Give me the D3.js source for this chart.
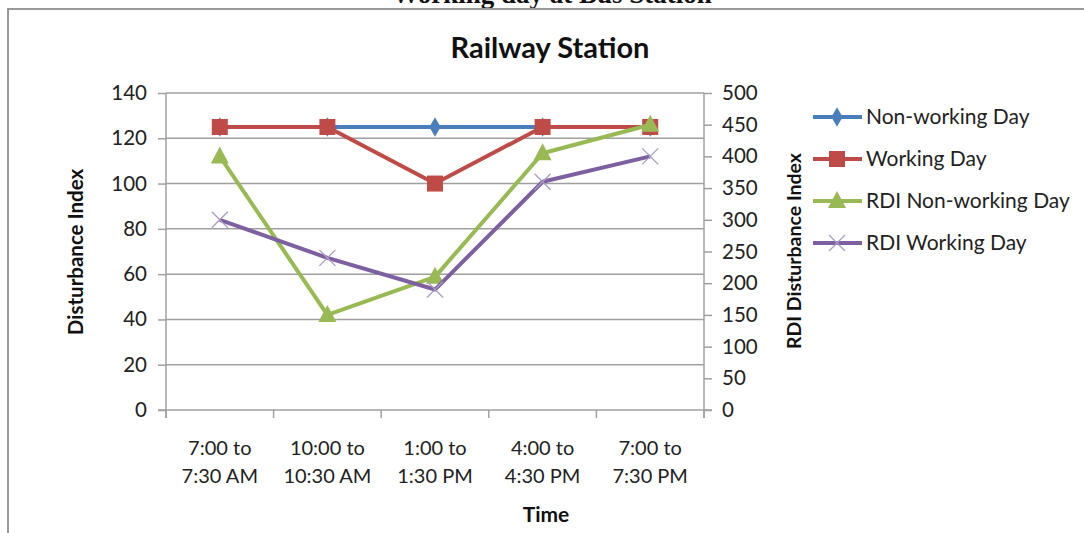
<!DOCTYPE html>
<html>
<head>
<meta charset="utf-8">
<script src="https://cdn.jsdelivr.net/npm/d3@7/dist/d3.min.js"></script>
<style>
  html, body { margin: 0; padding: 0; background: #fff; }
  svg { display: block; }
</style>
</head>
<body>
<svg id="chart" width="1084" height="533"></svg>
<script>
// Time slots sampled at the station
const categories = [
  ["7:00 to", "7:30 AM"],
  ["10:00 to", "10:30 AM"],
  ["1:00 to", "1:30 PM"],
  ["4:00 to", "4:30 PM"],
  ["7:00 to", "7:30 PM"]
];

// Disturbance index (left axis)
const nonWorkingDay = [125, 125, 125, 125, 125];
const workingDay = [125, 125, 100, 125, 125];

// RDI disturbance index (right axis)
const rdiNonWorkingDay = [400, 150, 210, 405, 450];
const rdiWorkingDay = [300, 240, 190, 360, 400];

const leftTicks = [0, 20, 40, 60, 80, 100, 120, 140];
const rightTicks = [0, 50, 100, 150, 200, 250, 300, 350, 400, 450, 500];

const seriesNames = ["Non-working Day", "Working Day", "RDI Non-working Day", "RDI Working Day"];

const font = "Lato, 'Open Sans', 'Liberation Sans', sans-serif";
const gridColor = "#a0a0a0";

const svg = d3.select("#chart");

// Page fragment above the chart frame
svg.append("text")
  .attr("x", 552).attr("y", 3)
  .attr("text-anchor", "middle")
  .attr("font-family", "'Liberation Serif', 'DejaVu Serif', serif")
  .attr("font-weight", "bold")
  .attr("font-size", 27)
  .attr("fill", "#111")
  .text("Working day at Bus Station");

// Chart frame
svg.append("path")
  .attr("d", "M8,533 V9 H1084")
  .attr("fill", "none")
  .attr("stroke", "#9a9a9a")
  .attr("stroke-width", 2);

const plot = { left: 166, right: 704, top: 93, bottom: 410 };

const x = d3.scaleBand()
  .domain(d3.range(categories.length))
  .range([plot.left, plot.right]);

const yLeft = d3.scaleLinear().domain([0, 140]).range([plot.bottom, plot.top]);
const yRight = d3.scaleLinear().domain([0, 500]).range([plot.bottom, plot.top]);

// Horizontal gridlines
svg.append("g")
  .selectAll("line")
  .data(leftTicks.filter(d => d > 0))
  .join("line")
  .attr("x1", plot.left).attr("x2", plot.right)
  .attr("y1", d => yLeft(d)).attr("y2", d => yLeft(d))
  .attr("stroke", gridColor).attr("stroke-width", 1.5);

// Left axis
const gLeft = svg.append("g")
  .attr("transform", `translate(${plot.left},0)`)
  .call(d3.axisLeft(yLeft).tickValues(leftTicks).tickSize(8).tickPadding(11).tickSizeOuter(0));

// Right axis
const gRight = svg.append("g")
  .attr("transform", `translate(${plot.right},0)`)
  .call(d3.axisRight(yRight).tickValues(rightTicks).tickSize(8).tickPadding(10).tickSizeOuter(0));

// Bottom axis with ticks between categories
const gBottom = svg.append("g")
  .attr("transform", `translate(0,${plot.bottom})`);
gBottom.append("line")
  .attr("x1", plot.left - 8).attr("x2", plot.right + 8)
  .attr("stroke", gridColor).attr("stroke-width", 1.5);
const bounds = d3.range(categories.length + 1).map(i => i < categories.length ? x(i) : x(i - 1) + x.bandwidth());
gBottom.selectAll("line.tick")
  .data(bounds)
  .join("line")
  .attr("class", "tick")
  .attr("x1", d => d).attr("x2", d => d)
  .attr("y1", 0).attr("y2", 8)
  .attr("stroke", gridColor).attr("stroke-width", 1.5);

gBottom.selectAll("text.cat")
  .data(categories)
  .join("text")
  .attr("class", "cat")
  .attr("x", (d, i) => x(i) + x.bandwidth() / 2)
  .attr("text-anchor", "middle")
  .attr("font-family", font)
  .attr("font-size", 20)
  .attr("fill", "#222")
  .selectAll("tspan")
  .data(d => d)
  .join("tspan")
  .attr("x", function () { return d3.select(this.parentNode).attr("x"); })
  .attr("y", (d, j) => 45 + j * 28)
  .text(d => d);

[gLeft, gRight].forEach(g => {
  g.select(".domain").attr("stroke", gridColor).attr("stroke-width", 1.5);
  g.selectAll(".tick line").attr("stroke", gridColor).attr("stroke-width", 1.5);
  g.selectAll(".tick text")
    .attr("font-family", font)
    .attr("font-size", 20.5)
    .attr("fill", "#222");
});
gLeft.select(".domain").attr("d", `M0,${plot.bottom + 8}V${plot.top}`);
gRight.select(".domain").attr("d", `M0,${plot.bottom + 8}V${plot.top}`);

// Titles
svg.append("text")
  .attr("x", 550).attr("y", 58)
  .attr("text-anchor", "middle")
  .attr("font-family", font)
  .attr("font-weight", "bold")
  .attr("font-size", 29)
  .attr("fill", "#111")
  .text("Railway Station");

svg.append("text")
  .attr("x", 546).attr("y", 522)
  .attr("text-anchor", "middle")
  .attr("font-family", font)
  .attr("font-weight", "bold")
  .attr("font-size", 21)
  .attr("fill", "#111")
  .text("Time");

svg.append("text")
  .attr("transform", "translate(83,252) rotate(-90)")
  .attr("text-anchor", "middle")
  .attr("font-family", font)
  .attr("font-weight", "bold")
  .attr("font-size", 20.5)
  .attr("fill", "#111")
  .text("Disturbance Index");

svg.append("text")
  .attr("transform", "translate(801,251) rotate(-90)")
  .attr("text-anchor", "middle")
  .attr("font-family", font)
  .attr("font-weight", "bold")
  .attr("font-size", 19.5)
  .attr("fill", "#111")
  .text("RDI Disturbance Index");

// Series definitions
const series = [
  { name: seriesNames[0], values: nonWorkingDay, y: yLeft, color: "#4a7ebb", marker: "diamond" },
  { name: seriesNames[1], values: workingDay, y: yLeft, color: "#be4b48", marker: "square" },
  { name: seriesNames[2], values: rdiNonWorkingDay, y: yRight, color: "#98b954", marker: "triangle" },
  { name: seriesNames[3], values: rdiWorkingDay, y: yRight, color: "#7d60a0", marker: "cross" }
];

function drawMarker(g, type, color, cx, cy) {
  if (type === "diamond") {
    g.append("path")
      .attr("d", d3.symbol(d3.symbolDiamond, 110)())
      .attr("transform", `translate(${cx},${cy})`)
      .attr("fill", color);
  } else if (type === "square") {
    g.append("rect")
      .attr("x", cx - 8).attr("y", cy - 8)
      .attr("width", 16).attr("height", 16)
      .attr("fill", color);
  } else if (type === "triangle") {
    g.append("path")
      .attr("d", `M${cx},${cy - 10}L${cx + 9},${cy + 7}L${cx - 9},${cy + 7}Z`)
      .attr("fill", color);
  } else if (type === "cross") {
    const s = 8;
    g.append("path")
      .attr("d", `M${cx - s},${cy - s}L${cx + s},${cy + s}M${cx - s},${cy + s}L${cx + s},${cy - s}`)
      .attr("stroke", "#a99bc4")
      .attr("stroke-width", 1.3)
      .attr("fill", "none");
  }
}

const cx = i => x(i) + x.bandwidth() / 2;

series.forEach(s => {
  const g = svg.append("g");
  const line = d3.line()
    .x((d, i) => cx(i))
    .y(d => s.y(d));
  g.append("path")
    .datum(s.values)
    .attr("d", line)
    .attr("fill", "none")
    .attr("stroke", s.color)
    .attr("stroke-width", 4)
    .attr("stroke-linejoin", "round");
  s.values.forEach((v, i) => drawMarker(g, s.marker, s.color, cx(i), s.y(v)));
});

// Legend
const legend = svg.append("g");
series.forEach((s, i) => {
  const ly = 117 + i * 42;
  legend.append("line")
    .attr("x1", 813).attr("x2", 862)
    .attr("y1", ly).attr("y2", ly)
    .attr("stroke", s.color).attr("stroke-width", 4);
  drawMarker(legend, s.marker, s.color, 837, ly);
  legend.append("text")
    .attr("x", 866).attr("y", ly + 7)
    .attr("font-family", font)
    .attr("font-size", 21)
    .attr("fill", "#222")
    .text(s.name);
});
</script>
</body>
</html>
